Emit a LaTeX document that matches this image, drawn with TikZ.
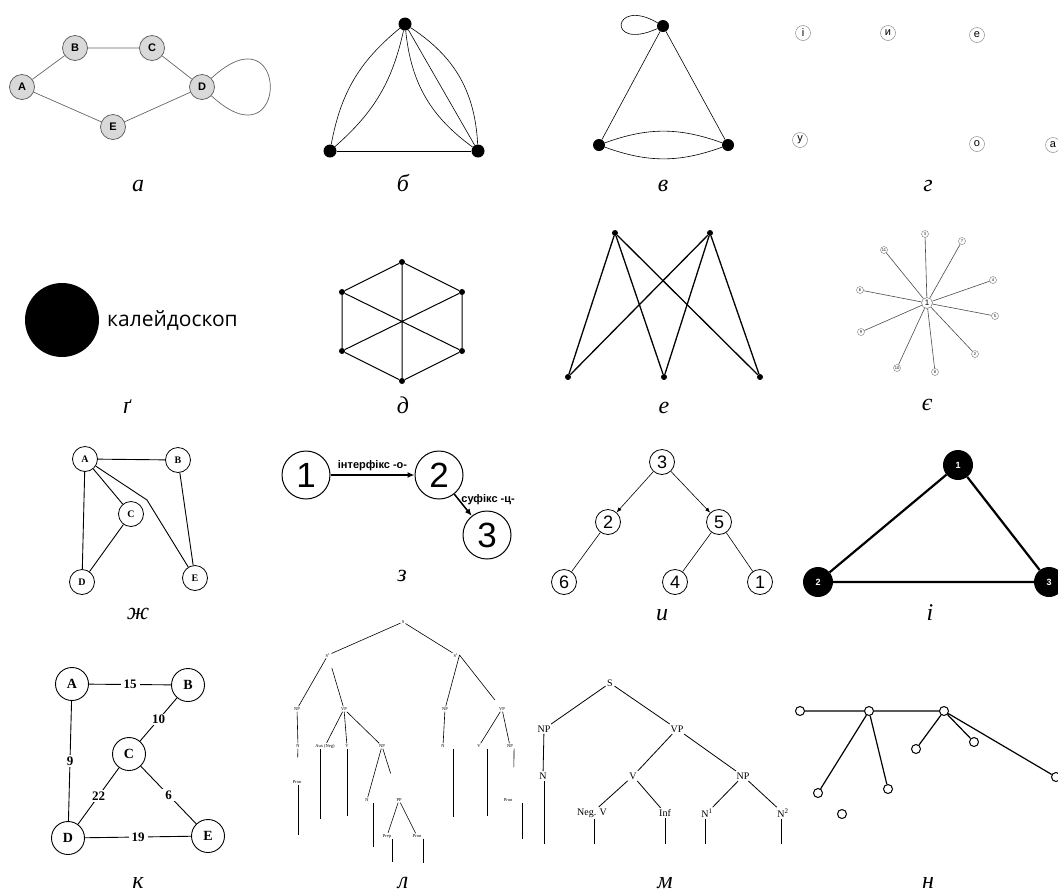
\documentclass[tikz,border=0pt]{standalone}
\usepackage{fontspec}
\setmainfont{Liberation Serif}
\setsansfont{Liberation Sans}
\newfontfamily\opensans{Open Sans}
\usepackage{tikz}
\usetikzlibrary{arrows.meta}
\newcommand{\fsz}[1]{\fontsize{#1}{#1}\selectfont}
\tikzset{
  capt/.style={font=\fsz{24}\itshape,anchor=base,inner sep=0pt},
  ln/.style={line width=0.6pt},
  gnode/.style={circle,draw=black!65,fill=black!15,line width=0.7pt,minimum size=25pt,
    inner sep=0pt,font=\sffamily\bfseries\fsz{11}},
  gedge/.style={black!60,line width=0.7pt},
  bdot/.style={circle,fill=black,minimum size=13pt,inner sep=0pt},   % big vertex
  sdot/.style={circle,fill=black,minimum size=6pt,inner sep=0pt},    % small vertex
  vowel/.style={circle,draw=black!45,line width=0.5pt,minimum size=15pt,inner sep=0pt,
    font=\sffamily\fsz{11}},
  leaf/.style={circle,draw=black!55,fill=white,line width=0.4pt,minimum size=7pt,
    inner sep=0pt,font=\sffamily\fsz{4}},
  hub/.style={circle,draw=black!55,fill=white,line width=0.5pt,minimum size=11pt,
    inner sep=0pt,font=\sffamily\fsz{8}},
  spoke/.style={black!70,line width=0.6pt},
  snode/.style={circle,draw,fill=white,line width=0.8pt,minimum size=25pt,inner sep=0pt,
    font=\bfseries\fsz{10}},
  knode/.style={circle,draw,fill=white,line width=0.9pt,minimum size=33pt,inner sep=0pt,
    font=\bfseries\fsz{14}},
  kw/.style={fill=white,inner xsep=3pt,inner ysep=1.5pt,font=\bfseries\fsz{13}}, % edge weight
  znode/.style={circle,draw,line width=1pt,minimum size=48pt,inner sep=0pt,
    font=\sffamily\fsz{35}},
  zarr/.style={-{Latex[length=7pt,width=6pt]},line width=1.5pt},
  zlbl/.style={font=\sffamily\bfseries\fsz{11},inner sep=2pt},
  inode/.style={circle,draw,line width=0.8pt,minimum size=25pt,inner sep=0pt,
    font=\sffamily\fsz{18}},
  iarr/.style={-{Latex[length=5pt,width=4pt]},line width=0.6pt},
  tri/.style={circle,fill=black,minimum size=30pt,inner sep=0pt,text=white,
    font=\sffamily\bfseries\fsz{9}},
  ltree/.style={inner sep=1pt,font=\fsz{4.5}},
  mtree/.style={inner sep=1.5pt,font=\fsz{10}},
  hnode/.style={circle,draw,fill=white,line width=1pt,minimum size=9pt,inner sep=0pt},
}

\begin{document}
\begin{tikzpicture}[x=1pt,y=-1pt]
  \fill[white] (0,0) rectangle (1058,895);
  \useasboundingbox (0,0) rectangle (1058,895);

  \node[gnode] (aA) at (22,87) {A};
  \node[gnode] (aB) at (75,48) {B};
  \node[gnode] (aC) at (152,48) {C};
  \node[gnode] (aD) at (202,87) {D};
  \node[gnode] (aE) at (113,127) {E};
  \draw[gedge] (aA)--(aB)--(aC)--(aD)--(aE)--(aA);
  \draw[gedge] (aD) .. controls (290,5) and (290,169) .. (aD);
  \node[capt] (ca) at (138,191) {а};

  \node[bdot] (bT) at (405,24) {};
  \node[bdot] (bL) at (330,151) {};
  \node[bdot] (bR) at (478,151) {};
  \draw[ln] (bL)--(bR);
  \draw[ln] (bT) to[bend right=20] (bL) (bT) to[bend left=18] (bL);
  \draw[ln] (bT)--(bR) (bT) to[bend left=27] (bR) (bT) to[bend right=24] (bR);
  \node[capt] (cb) at (403,191) {б};

  \node[bdot,minimum size=12pt] (vT) at (663,26) {};
  \node[bdot,minimum size=12pt] (vL) at (599,145) {};
  \node[bdot,minimum size=12pt] (vR) at (728,145) {};
  \draw[ln] (vT)--(vL) (vT)--(vR) (vL) to[bend left=20] (vR) (vL) to[bend right=20] (vR);
  \draw[ln] (vT) .. controls (612,-4) and (606,52) .. (vT);
  \node[capt] (cv) at (663,191) {в};

  \foreach \n/\x/\y/\t in {g1/803/33/і, g2/888/33/и, g3/977/35/е,
                           g4/800/140/у, g5/977/144/о, g6/1053/145/а}
    \node[vowel] (\n) at (\x,\y) {\t};
  \node[capt] (cg) at (928,191) {г};

  \node[circle,fill=black,minimum size=74pt,inner sep=0pt] (kal) at (62,320) {};
  \node[font=\opensans\fsz{21},anchor=west,inner sep=0pt] (kalt) at (107,320) {калейдоскоп};
  \node[capt] (cgg) at (127,413) {ґ};

  \foreach \n/\x/\y in {d1/402/262, d2/462/292, d3/462/351, d4/402/381, d5/342/351, d6/342/292}
    \node[sdot] (\n) at (\x,\y) {};
  \draw[line width=1pt] (d1)--(d2)--(d3)--(d4)--(d5)--(d6)--(d1) (d1)--(d4) (d2)--(d5) (d3)--(d6);
  \node[capt] (cd) at (403,413) {д};

  \foreach \n/\x/\y in {e1/615/233, e2/710/233, e3/568/377, e4/664/377, e5/760/377}
    \node[sdot] (\n) at (\x,\y) {};
  \foreach \t in {e1,e2}
    \foreach \b in {e3,e4,e5}
      \draw[line width=1.3pt] (\t)--(\b);
  \node[capt] (ce) at (664,413) {е};

  \node[hub] (sc) at (927,303) {1};
  \foreach \t/\x/\y in {3/925/234, 7/962/241, 4/993/280, 5/995/316, 2/975/354,
                        8/935/372, 10/897/368, 9/861/332, 6/860/290, 11/884/250}{
    \node[leaf] (s\t) at (\x,\y) {\t};
    \draw[spoke] (sc)--(s\t);
  }
  \node[capt] (cye) at (927,410) {є};

  \node[snode] (jA) at (85,459) {A};
  \node[snode] (jB) at (178,460) {B};
  \node[snode] (jC) at (131,514) {C};
  \node[snode] (jD) at (82,582) {D};
  \node[snode] (jE) at (195,578) {E};
  \coordinate (jK) at (147,500);
  \draw[line width=0.9pt] (jA)--(jB) (jA)--(jD) (jA)--(jC) (jC)--(jD) (jB)--(jE) (jA)--(jK)--(jE);
  \node[capt] (czh) at (138,619) {ж};

  \node[znode] (z1) at (306,475) {1};
  \node[znode] (z2) at (439,475) {2};
  \node[znode] (z3) at (487,535) {3};
  \draw[zarr] (z1)--(z2) node[midway,above=1pt,zlbl] {інтерфікс -о-};
  \draw[zarr] (z2)--(z3) node[pos=0.25,anchor=west,zlbl] {суфікс -ц-};
  \node[capt] (cz) at (402,581) {з};

  \node[inode] (i3) at (662,462) {3};
  \node[inode] (i2) at (608,522) {2};
  \node[inode] (i5) at (719,522) {5};
  \node[inode] (i6) at (564,582) {6};
  \node[inode] (i4) at (675,582) {4};
  \node[inode] (i1) at (760,582) {1};
  \draw[iarr] (i3)--(i2);
  \draw[iarr] (i3)--(i5);
  \draw[line width=0.6pt] (i2)--(i6) (i5)--(i4) (i5)--(i1);
  \node[capt] (ci) at (662,620) {и};

  \node[tri] (t1) at (958,465) {1};
  \node[tri] (t2) at (818,582) {2};
  \node[tri] (t3) at (1049,582) {3};
  \draw[line width=2.2pt] (t1)--(t2)--(t3)--(t1);
  \node[capt] (cii) at (930,620) {і};

  \node[knode] (kA) at (72,684) {A};
  \node[knode] (kB) at (188,685) {B};
  \node[knode] (kC) at (129,754) {C};
  \node[knode] (kD) at (68,838) {D};
  \node[knode] (kE) at (208,836) {E};
  \draw[line width=0.9pt] (kA)--(kB) node[midway,kw] {15};
  \draw[line width=0.9pt] (kB)--(kC) node[midway,kw] {10};
  \draw[line width=0.9pt] (kA)--(kD) node[midway,kw] {9};
  \draw[line width=0.9pt] (kC)--(kD) node[midway,kw] {22};
  \draw[line width=0.9pt] (kC)--(kE) node[midway,kw] {6};
  \draw[line width=0.9pt] (kD)--(kE) node[midway,kw] {19};
  \node[capt] (ck) at (138,888) {к};

  \node[ltree] (lS) at (403,622) {S};
  \node[ltree] (lSa) at (328,655) {S\textsuperscript{1}};
  \node[ltree] (lSb) at (456,655) {S\textsuperscript{1}};
  \node[ltree] (lNPa) at (297,709) {NP};
  \node[ltree] (lVPa) at (344,709) {VP};
  \node[ltree] (lNa) at (298,746) {N};
  \node[ltree] (lAux) at (325,746) {Aux (Neg)};
  \node[ltree] (lVa) at (347,746) {V};
  \node[ltree] (lNPb) at (382,746) {NP};
  \node[ltree] (lProna) at (297,782) {Pron};
  \node[ltree] (lNb) at (367,800) {N};
  \node[ltree] (lPP) at (399,800) {PP};
  \node[ltree] (lPrep) at (387,836) {Prep};
  \node[ltree] (lPronb) at (417,836) {Pron};
  \node[ltree] (lNPc) at (445,709) {NP};
  \node[ltree] (lVPc) at (502,709) {VP};
  \node[ltree] (lNc) at (443,746) {N};
  \node[ltree] (lVc) at (479,746) {V};
  \node[ltree] (lNPd) at (510,746) {NP};
  \node[ltree] (lPronc) at (508,800) {Pron};
  \draw[ln] (lS)--(lSa) (lS)--(lSb);
  \draw[ln,shorten <=10pt] (lSa)--(lNPa) (lSa)--(lVPa);
  \draw[ln,shorten >=8pt] (lSb.east)--(lNPc) (lSb.east)--(lVPc);
  \draw[ln] (lNPa)--(lNa) (lNPc)--(lNc);
  \draw[ln,shorten >=22pt] (lNa)--(lProna);
  \draw[ln] (lVPa)--(lAux) (lVPa)--(lVa) (lVPa)--(lNPb);
  \draw[ln,shorten >=25pt] (lNPb)--(lNb) (lNPb)--(lPP);
  \draw[ln] (lPP)--(lPrep) (lPP)--(lPronb);
  \draw[ln] (lVPc)--(lVc) (lVPc)--(lNPd);
  \draw[ln,shorten >=30pt] (lNPd.south east)--(lPronc.north east);
  \foreach \n/\x/\y in {Prona/298/835, Aux/320/819, Va/347/816, Nb/373/847, Prep/392/862,
                        Pronb/423/863, Nc/453/817, Vc/487/816, Pronc/522/839}{
    \coordinate (h\n) at (\x,\y);
    \draw[ln] (l\n.south -| h\n)--(h\n);
  }
  \node[capt] (cl) at (403,888) {л};

  \node[mtree] (mS) at (610,683) {S};
  \node[mtree] (mNP) at (544,729) {NP};
  \node[mtree] (mVP) at (677,729) {VP};
  \node[mtree] (mN) at (543,776) {N};
  \node[mtree] (mV) at (633,776) {V};
  \node[mtree] (mNPb) at (743,776) {NP};
  \node[mtree] (mNeg) at (592,813) {Neg. V};
  \node[mtree] (mInf) at (665,813) {Inf};
  \node[mtree] (mNa) at (707,813) {N\textsuperscript{1}};
  \node[mtree] (mNb) at (783,813) {N\textsuperscript{2}};
  \draw[line width=0.8pt] (mS)--(mNP) (mS)--(mVP) (mNP)--(mN) (mVP)--(mV) (mVP)--(mNPb)
    (mV)--(mNeg) (mV)--(mInf) (mNPb)--(mNa) (mNPb)--(mNb);
  \foreach \n/\x in {N/544, Neg/594, Inf/665, Na/705, Nb/781}{
    \coordinate (e\n) at (\x,844);
    \draw[line width=0.8pt] (m\n.south -| e\n)--(e\n);
  }
  \node[capt] (cm) at (665,888) {м};

  \foreach \n/\x/\y in {h1/800/711, h2/869/711, h3/944/711, h4/818/793, h5/888/789,
                        h6/916/749, h7/974/742, h8/1056/777, h9/842/814}
    \node[hnode] (\n) at (\x,\y) {};
  \draw[line width=1.2pt] (h1)--(h2)--(h3) (h2)--(h4) (h2)--(h5) (h3)--(h6) (h3)--(h7) (h3)--(h8);
  \node[capt] (cn) at (928,888) {н};
\end{tikzpicture}
\end{document}
